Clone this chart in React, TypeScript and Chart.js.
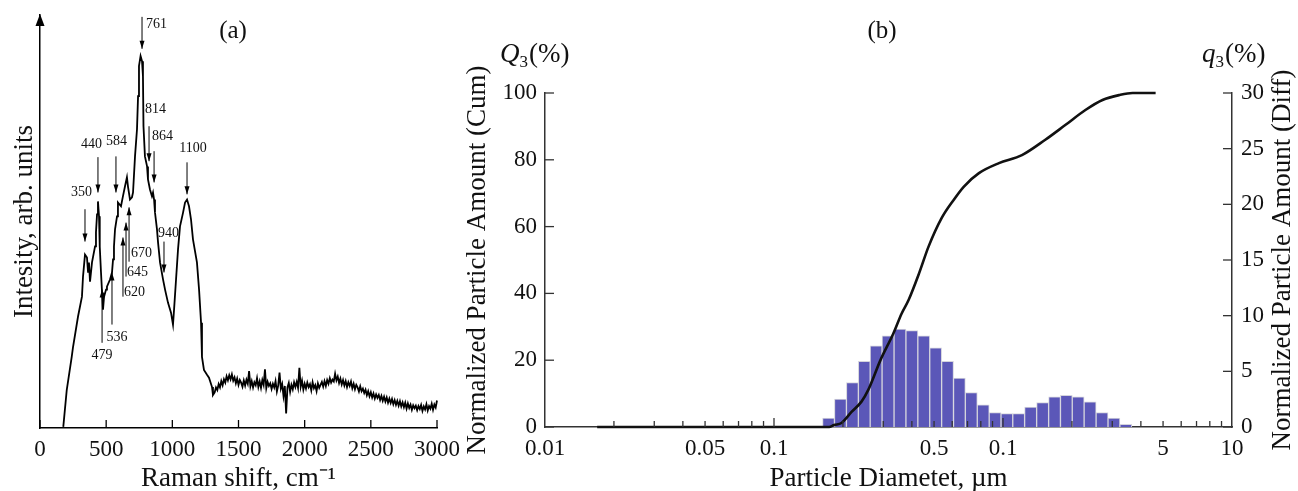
import React, { useEffect, useRef } from "react";
import { Chart, registerables } from "chart.js";

Chart.register(...registerables);

const SERIF = '"Liberation Serif", "Times New Roman", Times, serif';
Chart.defaults.font.family = SERIF;
Chart.defaults.color = "#111";

// ---------------- Panel (a): Raman spectrum ----------------
const ramanShift = [
  176, 202, 240, 249, 287, 317, 325, 340, 355, 363,
  370, 378, 393, 416, 423, 431, 438, 446, 450, 453,
  461, 469, 476, 484, 499, 506, 529, 544, 552, 559,
  567, 582, 589, 612, 627, 642, 657, 665, 680, 695,
  703, 718, 733, 741, 748, 760, 771, 778, 782, 793,
  809, 816, 831, 846, 854, 862, 869, 884, 892, 907,
  930, 945, 967, 990, 1005, 1013, 1028, 1043, 1058, 1081,
  1096, 1111, 1126, 1141, 1156, 1186, 1202, 1217, 1224, 1239,
  1262, 1277, 1300, 1307, 1320, 1330,
  1340, 1350, 1360, 1370, 1380, 1390, 1400, 1410, 1420, 1430,
  1440, 1450, 1460, 1470, 1480, 1490, 1500, 1510, 1520, 1530,
  1540, 1550, 1560, 1570, 1580, 1590, 1600, 1610, 1620, 1630,
  1640, 1650, 1660, 1670, 1680, 1690, 1700, 1710, 1720, 1730,
  1740, 1750, 1760, 1770, 1780, 1790, 1800, 1810, 1820, 1830,
  1840, 1850, 1860, 1870, 1880, 1890, 1900, 1910, 1920, 1930,
  1940, 1950, 1960, 1970, 1980, 1990, 2000, 2010, 2020, 2030,
  2040, 2050, 2060, 2070, 2080, 2090, 2100, 2110, 2120, 2130,
  2140, 2150, 2160, 2170, 2180, 2190, 2200, 2210, 2220, 2230,
  2240, 2250, 2260, 2270, 2280, 2290, 2300, 2310, 2320, 2330,
  2340, 2350, 2360, 2370, 2380, 2390, 2400, 2410, 2420, 2430,
  2440, 2450, 2460, 2470, 2480, 2490, 2500, 2510, 2520, 2530,
  2540, 2550, 2560, 2570, 2580, 2590, 2600, 2610, 2620, 2630,
  2640, 2650, 2660, 2670, 2680, 2690, 2700, 2710, 2720, 2730,
  2740, 2750, 2760, 2770, 2780, 2790, 2800, 2810, 2820, 2830,
  2840, 2850, 2860, 2870, 2880, 2890, 2900, 2910, 2920, 2930,
  2940, 2950, 2960, 2970, 2980, 2990, 3000,
];

const ramanIntensity = [
  0.3, 10.2, 19.2, 21.6, 29.9, 35.3, 40.7, 46.6, 45.8, 42.0,
  44.5, 39.3, 44.5, 48.8, 52.6, 57.4, 60.9, 56.9, 52.8, 48.8,
  41.8, 36.4, 31.8, 35.3, 37.2, 38.0, 39.9, 41.8, 45.3, 48.8,
  53.4, 56.9, 60.6, 59.6, 62.3, 64.9, 67.4, 64.9, 61.4, 62.0,
  63.3, 73.0, 80.3, 89.2, 97.3, 100, 98.6, 94.6, 81.1, 73.0,
  70.3, 66.8, 64.1, 62.3, 63.3, 61.4, 57.9, 53.4, 49.9, 44.5,
  39.9, 37.2, 33.7, 31.0, 27.8, 31.8, 39.9, 48.0, 54.2, 57.9,
  60.6, 61.4, 59.6, 56.1, 50.7, 44.5, 37.2, 28.3, 19.1, 15.6,
  14.3, 13.5, 11.0, 8.9, 9.6, 10.9,
  10.2, 11.8, 10.9, 12.6, 11.5, 13.1, 12.2, 13.9, 12.8, 14.2,
  13.1, 14.4, 12.7, 13.6, 12.0, 13.3, 11.6, 12.9, 12.2, 11.1,
  12.8, 11.4, 13.0, 11.9, 15.3, 11.2, 12.6, 10.9, 12.3, 11.5,
  13.4, 11.0, 12.5, 10.8, 12.9, 11.6, 15.8, 10.7, 12.4, 11.3,
  12.0, 10.5, 11.9, 10.9, 12.6, 9.8, 11.4, 14.9, 10.6, 11.8,
  8.6, 11.3, 3.9, 10.9, 12.1, 9.7, 11.6, 10.4, 12.3, 11.0,
  12.4, 10.8, 16.2, 11.1, 12.7, 10.3, 11.9, 10.6, 12.2, 11.0,
  11.8, 10.1, 12.3, 10.7, 11.5, 9.9, 12.0, 10.8, 11.6, 12.4,
  11.1, 12.6, 11.3, 12.9, 11.9, 13.4, 12.2, 13.0, 12.5, 14.6,
  12.8, 13.8, 12.1, 13.3, 11.7, 12.9, 11.4, 12.6, 11.0, 12.3,
  11.3, 12.5, 10.7, 11.9, 10.4, 11.6, 10.9, 9.8, 11.2, 9.9,
  10.6, 9.4, 10.3, 8.8, 9.9, 8.5, 9.6, 8.2, 9.3, 7.9,
  9.0, 8.1, 8.9, 7.5, 8.6, 7.3, 8.4, 7.1, 8.2, 6.8,
  7.9, 6.7, 7.8, 6.4, 7.5, 6.2, 7.3, 6.0, 7.2, 5.8,
  6.9, 5.6, 6.8, 5.2, 6.6, 5.4, 6.3, 4.9, 6.1, 5.3,
  6.0, 4.8, 5.9, 5.1, 6.2, 4.6, 5.8, 5.0, 6.4, 4.7,
  5.9, 5.2, 6.5, 4.9, 6.3, 5.5, 7.4,
];

const ramanTicks = [0, 500, 1000, 1500, 2000, 2500, 3000];
const ramanTickLabels = ["0", "500", "1000", "1500", "2000", "2500", "3000"];

// peak annotations (data units: cm-1 / arb. units)
const peakLabels = ["761", "814", "864", "1100", "440", "584", "350", "940", "670", "645", "620", "536", "479"];
const peakArrowShift = [771, 824, 862, 1111, 438, 574, 340, 937, 673, 650, 627, 544, 469];
const peakArrowTail = [110.5, 81.1, 74.4, 71.4, 72.8, 73.0, 58.8, 50.1, 44.7, 40.7, 35.3, 27.8, 22.9];
const peakArrowHead = [101.9, 71.7, 66.0, 62.8, 63.3, 63.3, 50.1, 41.8, 59.3, 55.2, 51.2, 41.8, 37.2];
const peakTextShift = [801, 793, 846, 1156, 389, 578, 314, 971, 688, 657, 635, 582, 469];
const peakTextLevel = [108.6, 85.7, 78.4, 75.2, 76.3, 77.1, 63.3, 52.3, 46.9, 41.8, 36.4, 24.5, 19.4];
const peakTextAlign = ["left", "left", "left", "center", "center", "center", "center", "center", "left", "left", "left", "center", "center"];

// ---------------- Panel (b): particle size distribution ----------------
const binDiameter = [0.173, 0.195, 0.22, 0.248, 0.279, 0.315, 0.355, 0.4, 0.451, 0.508, 0.573, 0.645, 0.727, 0.82, 0.924, 1.04, 1.17, 1.32, 1.49, 1.68, 1.89, 2.13, 2.4, 2.71, 3.05, 3.44];
const binPercent = [0.8, 2.5, 4.0, 5.9, 7.3, 8.2, 8.8, 8.65, 8.2, 7.1, 5.9, 4.4, 3.1, 2.0, 1.3, 1.2, 1.2, 1.8, 2.2, 2.7, 2.85, 2.7, 2.25, 1.3, 0.8, 0.25];

const cumDiameter = [0.0169, 0.174, 0.183, 0.197, 0.218, 0.241, 0.258, 0.292, 0.332, 0.361, 0.387, 0.43, 0.473, 0.54, 0.609, 0.675, 0.785, 0.96, 1.21, 1.53, 1.87, 2.29, 2.72, 3.23, 3.68, 4.64];
const cumPercent = [0, 0, 0.6, 1.2, 4.5, 7.6, 11.1, 20.1, 28, 34, 38, 46, 54, 62.6, 68, 72, 76, 79, 81.4, 86, 90.4, 94.9, 97.9, 99.4, 100, 100];

const diameterTickValues = [0.01, 0.05, 0.1, 0.5, 1, 5, 10];
const diameterTickLabels = ["0.01", "0.05", "0.1", "0.5", "0.1", "5", "10"];
const diameterMinorTicks = [
  0.02, 0.03, 0.04, 0.05, 0.06, 0.07, 0.08, 0.09,
  0.2, 0.3, 0.4, 0.5, 0.6, 0.7, 0.8, 0.9,
  2, 3, 4, 5, 6, 7, 8, 9,
];
const diameterDecadeTicks = [0.1, 1];
const cumTicks = [0, 20, 40, 60, 80, 100];
const diffTicks = [0, 5, 10, 15, 20, 25, 30];

// ---------------- helpers ----------------
function drawArrow(ctx: CanvasRenderingContext2D, px: number, yTail: number, yHead: number) {
  ctx.beginPath();
  ctx.moveTo(px, yTail);
  ctx.lineTo(px, yHead);
  ctx.stroke();
  const dir = yHead > yTail ? 1 : -1;
  ctx.beginPath();
  ctx.moveTo(px, yHead);
  ctx.lineTo(px - 2.5, yHead - dir * 8);
  ctx.lineTo(px + 2.5, yHead - dir * 8);
  ctx.closePath();
  ctx.fill();
}

function drawQLabel(ctx: CanvasRenderingContext2D, x: number, baseline: number, main: string) {
  ctx.textAlign = "left";
  ctx.textBaseline = "alphabetic";
  ctx.font = `italic 27px ${SERIF}`;
  ctx.fillText(main, x, baseline);
  let w = ctx.measureText(main).width;
  ctx.font = `17px ${SERIF}`;
  ctx.fillText("3", x + w, baseline + 5);
  w += ctx.measureText("3").width;
  ctx.font = `27px ${SERIF}`;
  ctx.fillText("(%)", x + w + 1, baseline);
}

const ramanDecor = {
  id: "ramanDecor",
  afterDraw(chart: any) {
    const { ctx, chartArea: ca, scales } = chart;
    const x = scales.x;
    const y = scales.y;
    ctx.save();
    ctx.fillStyle = "#000";
    ctx.strokeStyle = "#000";
    // y-axis arrow head
    ctx.beginPath();
    ctx.moveTo(ca.left, ca.top - 1);
    ctx.lineTo(ca.left - 4.5, ca.top + 11);
    ctx.lineTo(ca.left + 4.5, ca.top + 11);
    ctx.closePath();
    ctx.fill();
    // inward ticks on x axis
    ctx.lineWidth = 1.3;
    ramanTicks.forEach((v) => {
      const px = x.getPixelForValue(v);
      ctx.beginPath();
      ctx.moveTo(px, ca.bottom);
      ctx.lineTo(px, ca.bottom - 8);
      ctx.stroke();
    });
    // peak annotations
    ctx.lineWidth = 1;
    peakLabels.forEach((lab, i) => {
      const px = x.getPixelForValue(peakArrowShift[i]);
      drawArrow(ctx, px, y.getPixelForValue(peakArrowTail[i]), y.getPixelForValue(peakArrowHead[i]));
      ctx.font = `14px ${SERIF}`;
      ctx.textAlign = peakTextAlign[i] as CanvasTextAlign;
      ctx.textBaseline = "middle";
      ctx.fillStyle = "#111";
      ctx.fillText(lab, x.getPixelForValue(peakTextShift[i]), y.getPixelForValue(peakTextLevel[i]));
      ctx.fillStyle = "#000";
    });
    // panel label
    ctx.font = `25px ${SERIF}`;
    ctx.textAlign = "center";
    ctx.textBaseline = "middle";
    ctx.fillStyle = "#111";
    ctx.fillText("(a)", 233, 31);
    ctx.restore();
  },
};

const sizeDecor = {
  id: "sizeDecor",
  afterDraw(chart: any) {
    const { ctx, chartArea: ca, scales } = chart;
    const x = scales.x;
    const y = scales.y;
    const y2 = scales.y2;
    ctx.save();
    ctx.strokeStyle = "#333";
    ctx.lineWidth = 1.3;
    diameterMinorTicks.concat(diameterDecadeTicks).forEach((v) => {
      const px = x.getPixelForValue(v);
      const len = diameterDecadeTicks.includes(v) ? 9 : 6;
      ctx.beginPath();
      ctx.moveTo(px, ca.bottom);
      ctx.lineTo(px, ca.bottom - len);
      ctx.stroke();
    });
    cumTicks.forEach((v) => {
      const py = y.getPixelForValue(v);
      ctx.beginPath();
      ctx.moveTo(ca.left, py);
      ctx.lineTo(ca.left + 9, py);
      ctx.stroke();
    });
    diffTicks.forEach((v) => {
      const py = y2.getPixelForValue(v);
      ctx.beginPath();
      ctx.moveTo(ca.right, py);
      ctx.lineTo(ca.right - 9, py);
      ctx.stroke();
    });
    ctx.fillStyle = "#111";
    drawQLabel(ctx, 40, 62, "Q");
    drawQLabel(ctx, 742, 62, "q");
    // right axis title, reading bottom-to-top
    ctx.save();
    ctx.translate(823, (ca.top + ca.bottom) / 2);
    ctx.rotate(-Math.PI / 2);
    ctx.font = `27px ${SERIF}`;
    ctx.textAlign = "center";
    ctx.textBaseline = "middle";
    ctx.fillText("Normalized Particle Amount (Diff)", 0, 0);
    ctx.restore();
    ctx.font = `25px ${SERIF}`;
    ctx.textAlign = "center";
    ctx.textBaseline = "middle";
    ctx.fillText("(b)", 422, 31);
    ctx.restore();
  },
};

export default function App() {
  const refA = useRef<HTMLCanvasElement>(null);
  const refB = useRef<HTMLCanvasElement>(null);

  useEffect(() => {
    const axisFont = { size: 23, family: SERIF };
    const titleFont = { size: 27, family: SERIF };

    const chartA = new Chart(refA.current as HTMLCanvasElement, {
      type: "line",
      data: {
        datasets: [
          {
            data: ramanShift.map((s, i) => ({ x: s, y: ramanIntensity[i] })),
            borderColor: "#000",
            borderWidth: 1.8,
            pointRadius: 0,
            tension: 0,
            clip: false,
          } as any,
        ],
      },
      options: {
        responsive: false,
        animation: false,
        devicePixelRatio: 1,
        layout: { padding: { left: 0, right: 43, top: 15, bottom: 0 } },
        plugins: { legend: { display: false }, tooltip: { enabled: false } },
        scales: {
          x: {
            type: "linear",
            min: 0,
            max: 3000,
            afterBuildTicks: (s: any) => {
              s.ticks = ramanTicks.map((v) => ({ value: v }));
            },
            ticks: {
              callback: (_v: any, i: number) => ramanTickLabels[i],
              font: axisFont,
              color: "#111",
              padding: 8,
              maxRotation: 0,
              autoSkip: false,
            },
            grid: { display: false, drawTicks: false },
            border: { display: true, color: "#000", width: 1.5 },
            title: { display: true, text: "Raman shift, cm⁻¹", font: titleFont, color: "#111", padding: { top: 0, bottom: -4 } },
            afterFit: (s: any) => {
              s.height = 63;
            },
          },
          y: {
            type: "linear",
            min: 0,
            max: 111,
            ticks: { display: false },
            grid: { display: false, drawTicks: false },
            border: { display: true, color: "#000", width: 1.5 },
            title: { display: true, text: "Intesity, arb. units", font: titleFont, color: "#111", padding: { top: 9, bottom: 0 } },
            afterFit: (s: any) => {
              s.width = 40;
            },
          },
        },
      } as any,
      plugins: [ramanDecor],
    });

    const chartB = new Chart(refB.current as HTMLCanvasElement, {
      type: "bar",
      data: {
        datasets: [
          {
            type: "line",
            data: cumDiameter.map((d, i) => ({ x: d, y: cumPercent[i] })),
            yAxisID: "y",
            borderColor: "#111",
            borderWidth: 2.6,
            pointRadius: 0,
            cubicInterpolationMode: "monotone",
            order: 0,
            clip: false,
          } as any,
          {
            type: "bar",
            data: binDiameter.map((d, i) => ({ x: d, y: binPercent[i] })),
            yAxisID: "y2",
            backgroundColor: "#5b57b8",
            borderColor: "#d4d4dc",
            borderWidth: 1,
            barThickness: "flex",
            barPercentage: 1,
            categoryPercentage: 1,
            order: 1,
          } as any,
        ],
      },
      options: {
        responsive: false,
        animation: false,
        devicePixelRatio: 1,
        layout: { padding: { left: 0, right: 0, top: 93, bottom: 0 } },
        plugins: { legend: { display: false }, tooltip: { enabled: false } },
        scales: {
          x: {
            type: "logarithmic",
            min: 0.01,
            max: 10,
            offset: false,
            afterBuildTicks: (s: any) => {
              s.ticks = diameterTickValues.map((v) => ({ value: v }));
            },
            ticks: {
              callback: (_v: any, i: number) => diameterTickLabels[i],
              font: axisFont,
              color: "#111",
              padding: 8,
              autoSkip: false,
              maxRotation: 0,
            },
            grid: { display: false, drawTicks: false, offset: false },
            border: { display: true, color: "#333", width: 1.5 },
            title: { display: true, text: "Particle Diametet, µm", font: titleFont, color: "#111", padding: { top: 0, bottom: -4 } },
            afterFit: (s: any) => {
              s.height = 64;
            },
          },
          y: {
            type: "linear",
            position: "left",
            min: 0,
            max: 100,
            ticks: { stepSize: 20, font: axisFont, color: "#111", padding: 8 },
            grid: { display: false, drawTicks: false },
            border: { display: true, color: "#333", width: 1.5 },
            title: { display: true, text: "Normalized Particle Amount (Cum)", font: titleFont, color: "#111", padding: { top: 2, bottom: 0 } },
            afterFit: (s: any) => {
              s.width = 85;
            },
          },
          y2: {
            type: "linear",
            position: "right",
            min: 0,
            max: 30,
            ticks: { stepSize: 5, font: axisFont, color: "#111", padding: 9 },
            grid: { display: false, drawTicks: false },
            border: { display: true, color: "#333", width: 1.5 },
            afterFit: (s: any) => {
              s.width = 66;
            },
          },
        },
      } as any,
      plugins: [sizeDecor],
    });

    return () => {
      chartA.destroy();
      chartB.destroy();
    };
  }, []);

  return (
    <div style={{ position: "fixed", left: 0, top: 0, width: 1298, height: 491, background: "#fff", overflow: "hidden" }}>
      <canvas ref={refA} width={480} height={491} style={{ position: "absolute", left: 0, top: 0 }} />
      <canvas ref={refB} width={838} height={491} style={{ position: "absolute", left: 460, top: 0 }} />
    </div>
  );
}
